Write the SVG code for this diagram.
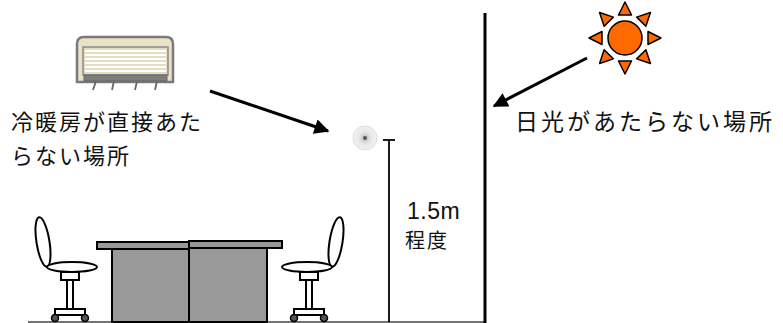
<svg xmlns="http://www.w3.org/2000/svg" width="783" height="323" viewBox="0 0 783 323">
  <style>
    .jp { font-family: "Noto Sans CJK JP", "Noto Sans", sans-serif; fill: #111; }
    .num { font-family: "Liberation Sans", Arial, sans-serif; fill: #111; }
    .ln { stroke: #000; fill: none; }
    .desk { fill: #999; stroke: #000; stroke-width: 2; }
    .chair { fill: #fff; stroke: #000; stroke-width: 2; }
    .wheel { fill: #555; stroke: #000; stroke-width: 1.5; }
    .ray { fill: #ff6a00; stroke: #000; stroke-width: 1.5; stroke-linejoin: round; }
  </style>
  <defs>
    <marker id="arrowhead" viewBox="0 0 10 10" refX="9" refY="5" markerWidth="6" markerHeight="5" orient="auto" markerUnits="strokeWidth">
      <path d="M0,0 L10,5 L0,10 z" fill="#000"/>
    </marker>
    <polygon id="sunray" class="ray" points="0,-36 -6.5,-23 6.5,-23"/>
    <radialGradient id="sensorFill" cx="0.5" cy="0.5" r="0.5">
      <stop offset="0" stop-color="#bbb"/>
      <stop offset="0.5" stop-color="#e6e6e6"/>
      <stop offset="1" stop-color="#f2f2f2"/>
    </radialGradient>
    <g id="chair">
      <!-- seat, column and castors, drawn around x=0 facing right -->
      <ellipse cx="-27" cy="-80" rx="6.5" ry="25" transform="rotate(-9 -27 -80)" class="chair"/>
      <rect x="-9" y="-50" width="18" height="8" class="chair"/>
      <rect x="-3" y="-42" width="6" height="31" class="chair"/>
      <rect x="-15" y="-13" width="30" height="6" class="chair"/>
      <ellipse cx="2" cy="-55" rx="25" ry="5" class="chair"/>
      <circle cx="-15" cy="-4" r="3.5" class="wheel"/>
      <circle cx="15" cy="-4" r="3.5" class="wheel"/>
    </g>
  </defs>

  <!-- floor and wall -->
  <g id="room">
    <line x1="28" y1="322" x2="486" y2="322" stroke="#444" stroke-width="1.5"/>
    <line x1="485" y1="13" x2="485" y2="323" stroke="#000" stroke-width="3"/>
  </g>

  <!-- air conditioner -->
  <g id="aircon">
    <path d="M84,37 H166 Q173,37 173,44 V82 H77 V44 Q77,37 84,37 Z" fill="#ebe2c6" stroke="#7a7a7a" stroke-width="2.5"/>
    <rect x="83" y="47" width="85" height="28" fill="#e4dcc0" stroke="#8a8a8a" stroke-width="1.5"/>
    <g stroke="#fff" stroke-width="2.2">
      <line x1="85" y1="51" x2="166" y2="51"/>
      <line x1="85" y1="55" x2="166" y2="55"/>
      <line x1="85" y1="59" x2="166" y2="59"/>
      <line x1="85" y1="63" x2="166" y2="63"/>
      <line x1="85" y1="67" x2="166" y2="67"/>
      <line x1="85" y1="71" x2="166" y2="71"/>
    </g>
    <rect x="84" y="75" width="83" height="6" fill="#7d7d7d" stroke="#666" stroke-width="1"/>
    <g stroke="#666" stroke-width="1.8">
      <line x1="96" y1="81" x2="93" y2="90"/>
      <line x1="114" y1="81" x2="112" y2="90"/>
      <line x1="137" y1="81" x2="135" y2="90"/>
      <line x1="157" y1="81" x2="155" y2="90"/>
    </g>
  </g>

  <!-- sun -->
  <g id="sun" transform="translate(625 38)">
    <use href="#sunray"/>
    <use href="#sunray" transform="rotate(45)"/>
    <use href="#sunray" transform="rotate(90)"/>
    <use href="#sunray" transform="rotate(135)"/>
    <use href="#sunray" transform="rotate(180)"/>
    <use href="#sunray" transform="rotate(225)"/>
    <use href="#sunray" transform="rotate(270)"/>
    <use href="#sunray" transform="rotate(315)"/>
    <circle r="17" fill="#ff6a00" stroke="#000" stroke-width="1.5"/>
  </g>

  <!-- sensor on its pole -->
  <g id="sensor">
    <circle cx="365" cy="138" r="12" fill="url(#sensorFill)" stroke="#ddd" stroke-width="1"/>
    <circle cx="365" cy="138" r="2" fill="#555"/>
    <line x1="383" y1="140" x2="395" y2="140" stroke="#000" stroke-width="1.8"/>
    <line x1="389" y1="140" x2="389" y2="322" stroke="#000" stroke-width="1.8"/>
  </g>

  <!-- desks -->
  <g id="desks">
    <rect x="112" y="249" width="77" height="73" class="desk"/>
    <rect x="189" y="248" width="78" height="74" class="desk"/>
    <rect x="97" y="242" width="92" height="7" class="desk"/>
    <rect x="189" y="241" width="93" height="7" class="desk"/>
  </g>

  <!-- chairs -->
  <g id="chair-left"><use href="#chair" transform="translate(70 322)"/></g>
  <g id="chair-right"><use href="#chair" transform="translate(309 322) scale(-1 1)"/></g>

  <!-- connectors -->
  <g id="connectors" class="ln" stroke-width="3">
    <line x1="210" y1="91" x2="328" y2="131" marker-end="url(#arrowhead)"/>
    <line x1="587" y1="58" x2="494" y2="106" marker-end="url(#arrowhead)"/>
  </g>

  <!-- labels -->
  <g id="labels">
    <text class="jp" x="11" y="130" font-size="22" letter-spacing="2">冷暖房が直接あた</text>
    <text class="jp" x="11" y="164" font-size="22" letter-spacing="2">らない場所</text>
    <text class="jp" x="515" y="130" font-size="23" letter-spacing="3">日光があたらない場所</text>
    <text class="num" x="407" y="219" font-size="23" letter-spacing="0.5">1.5m</text>
    <text class="jp" x="405" y="248" font-size="20" letter-spacing="2">程度</text>
  </g>
</svg>
